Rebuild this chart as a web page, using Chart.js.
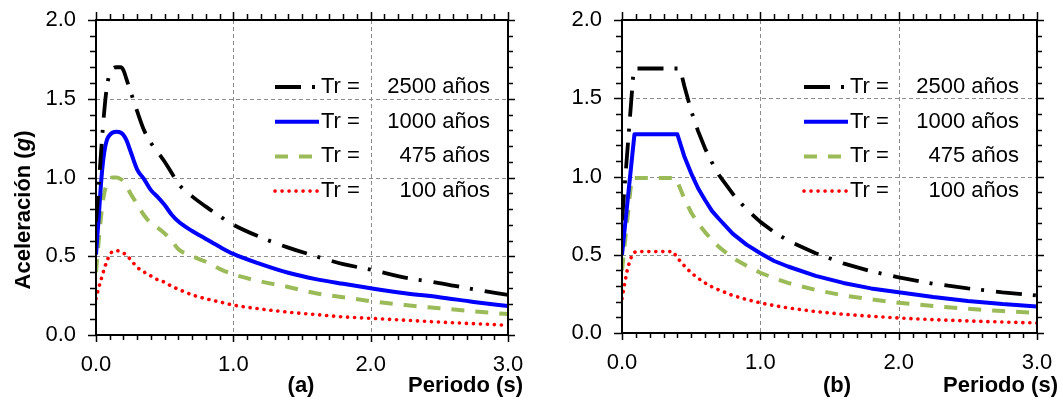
<!DOCTYPE html>
<html>
<head>
<meta charset="utf-8">
<script src="https://cdn.jsdelivr.net/npm/chart.js@4.4.8/dist/chart.umd.min.js"></script>
<style>
    html, body { margin: 0; padding: 0; background: #ffffff; }
    #wrap { position: relative; width: 1063px; height: 401px; }
    canvas { position: absolute; top: 0; }
</style>
</head>
<body>
<div id="wrap">
    <canvas id="panelA" width="530" height="401" style="left:0px"></canvas>
    <canvas id="panelB" width="533" height="401" style="left:530px"></canvas>
</div>
<script>
/*  Data  */

const returnPeriods = ['2500', '1000', '475', '100'];

// (a) uniform hazard spectra
const periodsA = [0, 0.02, 0.04, 0.06, 0.08, 0.1, 0.12, 0.15, 0.18, 0.2, 0.22, 0.25, 0.3, 0.35, 0.4, 0.45,
                  0.5, 0.55, 0.6, 0.7, 0.8, 0.9, 1.0, 1.2, 1.4, 1.6, 1.8, 2.0, 2.25, 2.5, 2.75, 3.0];
const accA2500 = [0.72, 0.95, 1.20, 1.42, 1.58, 1.66, 1.69, 1.70, 1.70, 1.68, 1.63, 1.55, 1.42, 1.30, 1.22, 1.16,
                  1.10, 1.03, 0.96, 0.88, 0.815, 0.755, 0.70, 0.62, 0.555, 0.50, 0.45, 0.415, 0.365, 0.33, 0.29, 0.255];
const accA1000 = [0.51, 0.75, 1.00, 1.16, 1.24, 1.27, 1.285, 1.29, 1.285, 1.27, 1.24, 1.17, 1.05, 0.99, 0.92, 0.875,
                  0.825, 0.765, 0.72, 0.66, 0.61, 0.56, 0.515, 0.45, 0.395, 0.355, 0.325, 0.297, 0.265, 0.24, 0.21, 0.184];
const accA475  = [0.40, 0.60, 0.78, 0.90, 0.96, 0.99, 1.00, 1.00, 0.99, 0.975, 0.95, 0.90, 0.83, 0.76, 0.71, 0.68,
                  0.645, 0.60, 0.545, 0.50, 0.465, 0.42, 0.385, 0.34, 0.305, 0.265, 0.24, 0.215, 0.19, 0.17, 0.15, 0.133];
const accA100  = [0.23, 0.30, 0.36, 0.42, 0.47, 0.51, 0.53, 0.535, 0.53, 0.52, 0.51, 0.48, 0.43, 0.40, 0.375, 0.35,
                  0.335, 0.31, 0.29, 0.255, 0.23, 0.21, 0.19, 0.165, 0.145, 0.13, 0.115, 0.106, 0.094, 0.082, 0.072, 0.062];

// (b) design spectra
const periodsB2500 = [0, 0.085, 0.42, 0.45, 0.5, 0.55, 0.6, 0.65, 0.7, 0.8, 0.9, 1.0, 1.1, 1.2, 1.4, 1.6, 1.8, 2.0, 2.25, 2.5, 2.75, 3.0];
const accB2500     = [0.72, 1.69, 1.69, 1.58, 1.42, 1.29, 1.18, 1.09, 1.01, 0.89, 0.79, 0.71, 0.645, 0.59, 0.51, 0.445, 0.395, 0.355, 0.315, 0.285, 0.26, 0.24];
const periodsB1000 = [0, 0.09, 0.40, 0.45, 0.5, 0.55, 0.6, 0.65, 0.7, 0.8, 0.9, 1.0, 1.1, 1.2, 1.4, 1.6, 1.8, 2.0, 2.25, 2.5, 2.75, 3.0];
const accB1000     = [0.50, 1.27, 1.27, 1.13, 1.02, 0.925, 0.85, 0.78, 0.73, 0.635, 0.565, 0.51, 0.46, 0.425, 0.365, 0.32, 0.285, 0.26, 0.23, 0.205, 0.185, 0.17];
const periodsB475  = [0, 0.07, 0.39, 0.45, 0.5, 0.55, 0.6, 0.65, 0.7, 0.8, 0.9, 1.0, 1.1, 1.2, 1.4, 1.6, 1.8, 2.0, 2.25, 2.5, 2.75, 3.0];
const accB475      = [0.40, 0.99, 0.99, 0.86, 0.77, 0.70, 0.645, 0.595, 0.55, 0.48, 0.43, 0.385, 0.35, 0.32, 0.275, 0.24, 0.215, 0.193, 0.172, 0.155, 0.14, 0.128];
const periodsB100  = [0, 0.02, 0.04, 0.06, 0.08, 0.1, 0.37, 0.4, 0.45, 0.5, 0.55, 0.6, 0.65, 0.7, 0.8, 0.9, 1.0, 1.1, 1.2, 1.4, 1.6, 1.8, 2.0, 2.25, 2.5, 2.75, 3.0];
const accB100      = [0.22, 0.32, 0.41, 0.47, 0.51, 0.52, 0.52, 0.48, 0.43, 0.385, 0.35, 0.32, 0.295, 0.275, 0.24, 0.214, 0.192, 0.175, 0.16, 0.137, 0.12, 0.107, 0.096, 0.085, 0.077, 0.07, 0.064];


/*  Styles  */

const FONT = "'Liberation Sans', Arial, sans-serif";

const seriesStyles = [
    { color: '#000000', width: 3.8, dash: [26, 11, 3, 12], cap: 'butt' },
    { color: '#0000ff', width: 4.0, dash: [],              cap: 'butt' },
    { color: '#9bbb59', width: 4.0, dash: [13, 11],        cap: 'butt' },
    { color: '#ff0000', width: 3.6, dash: [0.1, 6.9],      cap: 'round' }
];


/*  Helpers  */

function makeDatasets(periodLists, valueLists, smooth) {
    return valueLists.map(function(vals, i) {
        const st = seriesStyles[i];
        return {
            label: 'Tr = ' + returnPeriods[i] + ' años',
            data: vals.map((v, j) => ({ x: periodLists[i][j], y: v })),
            borderColor: st.color,
            borderWidth: st.width,
            borderDash: st.dash,
            borderCapStyle: st.cap,
            borderJoinStyle: 'round',
            pointRadius: 0,
            fill: false,
            tension: 0,
            cubicInterpolationMode: smooth ? 'monotone' : 'default'
        };
    });
}

// dashed grid behind the curves, box frame and minor ticks on all four sides
const frameTicks = {
    id: 'frameTicks',
    beforeDatasetsDraw(chart) {
        const { ctx, chartArea: a, scales: { x, y } } = chart;
        ctx.save();
        ctx.strokeStyle = '#8c8c8c';
        ctx.lineWidth = 1;
        ctx.setLineDash([4, 3]);
        ctx.beginPath();
        x.ticks.forEach(t => {
            if (t.value <= x.min || t.value >= x.max) return;
            const px = Math.round(x.getPixelForValue(t.value)) + 0.5;
            ctx.moveTo(px, a.top);
            ctx.lineTo(px, a.bottom);
        });
        y.ticks.forEach(t => {
            if (t.value <= y.min || t.value >= y.max) return;
            const py = Math.round(y.getPixelForValue(t.value)) + 0.5;
            ctx.moveTo(a.left, py);
            ctx.lineTo(a.right, py);
        });
        ctx.stroke();
        ctx.restore();
    },
    afterDatasetsDraw(chart) {
        const { ctx, chartArea: a, scales: { x, y } } = chart;
        ctx.save();
        ctx.strokeStyle = '#000000';
        ctx.setLineDash([]);
        ctx.lineWidth = 1.5;
        ctx.beginPath();
        for (let i = 0; i <= 30; i++) {
            const px = Math.round(x.getPixelForValue(i / 10)) + 0.5;
            const len = (i % 10 === 0) ? 7 : 5;
            ctx.moveTo(px, a.bottom);
            ctx.lineTo(px, a.bottom + len);
            ctx.moveTo(px, a.top);
            ctx.lineTo(px, a.top - len - 1);
        }
        for (let i = 0; i <= 20; i++) {
            const py = Math.round(y.getPixelForValue(i / 10)) + 0.5;
            const len = (i % 5 === 0) ? 8 : 6;
            ctx.moveTo(a.left, py);
            ctx.lineTo(a.left - len, py);
            ctx.moveTo(a.right, py);
            ctx.lineTo(a.right + len - 1, py);
        }
        ctx.stroke();
        ctx.lineWidth = 2;
        ctx.strokeRect(a.left, a.top, a.right - a.left, a.bottom - a.top);
        ctx.restore();
    }
};

// legend: line sample, "Tr =" and right-aligned return period
const trLegend = {
    id: 'trLegend',
    afterDatasetsDraw(chart) {
        const { ctx, chartArea: a } = chart;
        ctx.save();
        chart.data.datasets.forEach(function(ds, i) {
            const yRow = a.top + 67 + i * 34.7;
            const x0 = a.right - 233;
            ctx.strokeStyle = ds.borderColor;
            ctx.lineWidth = ds.borderWidth;
            ctx.setLineDash(ds.borderDash);
            ctx.lineCap = ds.borderCapStyle;
            ctx.beginPath();
            ctx.moveTo(x0, yRow);
            ctx.lineTo(x0 + 44, yRow);
            ctx.stroke();

            ctx.setLineDash([]);
            ctx.fillStyle = '#000000';
            ctx.font = '22px ' + FONT;
            ctx.textBaseline = 'middle';
            ctx.textAlign = 'left';
            ctx.fillText('Tr =', a.right - 187, yRow);
            ctx.textAlign = 'right';
            ctx.fillText(returnPeriods[i] + ' años', a.right - 18, yRow);
        });
        ctx.restore();
    }
};

// panel tag, x axis title and (optionally) the y axis title with italic g
function panelText(tag, tagX, titleEnd, withYTitle) {
    return {
        id: 'panelText',
        afterDraw(chart) {
            const ctx = chart.ctx;
            ctx.save();
            ctx.fillStyle = '#000000';
            ctx.textBaseline = 'alphabetic';
            ctx.font = 'bold 22px ' + FONT;
            ctx.textAlign = 'center';
            ctx.fillText(tag, tagX, 392);
            ctx.textAlign = 'right';
            ctx.fillText('Periodo (s)', titleEnd, 392);

            if (withYTitle) {
                const parts = [
                    ['Aceleración (', 'bold 22px ' + FONT],
                    ['g', 'italic bold 22px ' + FONT],
                    [')', 'bold 22px ' + FONT]
                ];
                let total = 0;
                parts.forEach(p => { ctx.font = p[1]; total += ctx.measureText(p[0]).width; });
                ctx.translate(30, 210);
                ctx.rotate(-Math.PI / 2);
                ctx.textAlign = 'left';
                let cx = -total / 2;
                parts.forEach(p => {
                    ctx.font = p[1];
                    ctx.fillText(p[0], cx, 0);
                    cx += ctx.measureText(p[0]).width;
                });
            }
            ctx.restore();
        }
    };
}

// the plot box is set by layout padding alone, so drop the label overflow margins
function clearScalePadding(s) {
    s.paddingTop = 0;
    s.paddingBottom = 0;
    s.paddingLeft = 0;
    s.paddingRight = 0;
}

function makeChart(canvasId, datasets, opts) {
    const tickFont = { family: FONT, size: 22 };
    return new Chart(document.getElementById(canvasId), {
        type: 'line',
        data: { datasets: datasets },
        options: {
            responsive: false,
            animation: false,
            devicePixelRatio: 1,
            events: [],
            layout: { padding: { top: 20, right: opts.padRight, bottom: 0, left: 0 } },
            plugins: { legend: { display: false }, tooltip: { enabled: false } },
            scales: {
                x: {
                    type: 'linear',
                    min: 0,
                    max: 3,
                    grid: { display: false, drawTicks: false },
                    border: { display: false },
                    ticks: {
                        stepSize: 1,
                        color: '#000000',
                        font: tickFont,
                        padding: 17,
                        maxRotation: 0,
                        callback: v => v.toFixed(1)
                    },
                    afterFit: s => { s.height = opts.xHeight; clearScalePadding(s); }
                },
                y: {
                    type: 'linear',
                    min: 0,
                    max: 2,
                    grid: { display: false, drawTicks: false },
                    border: { display: false },
                    ticks: {
                        stepSize: 0.5,
                        color: '#000000',
                        font: tickFont,
                        padding: 20,
                        callback: v => v.toFixed(1)
                    },
                    afterFit: s => { s.width = opts.yWidth; clearScalePadding(s); }
                }
            }
        },
        plugins: [frameTicks, trLegend, panelText(opts.tag, opts.tagX, opts.titleEnd, opts.yTitle)]
    });
}


/*  Charts  */

makeChart('panelA',
    makeDatasets([periodsA, periodsA, periodsA, periodsA], [accA2500, accA1000, accA475, accA100], true),
    { padRight: 22, xHeight: 66, yWidth: 96, tag: '(a)', tagX: 301, titleEnd: 523, yTitle: true });

makeChart('panelB',
    makeDatasets([periodsB2500, periodsB1000, periodsB475, periodsB100], [accB2500, accB1000, accB475, accB100], false),
    { padRight: 26, xHeight: 68, yWidth: 92, tag: '(b)', tagX: 307, titleEnd: 528, yTitle: false });
</script>
</body>
</html>
